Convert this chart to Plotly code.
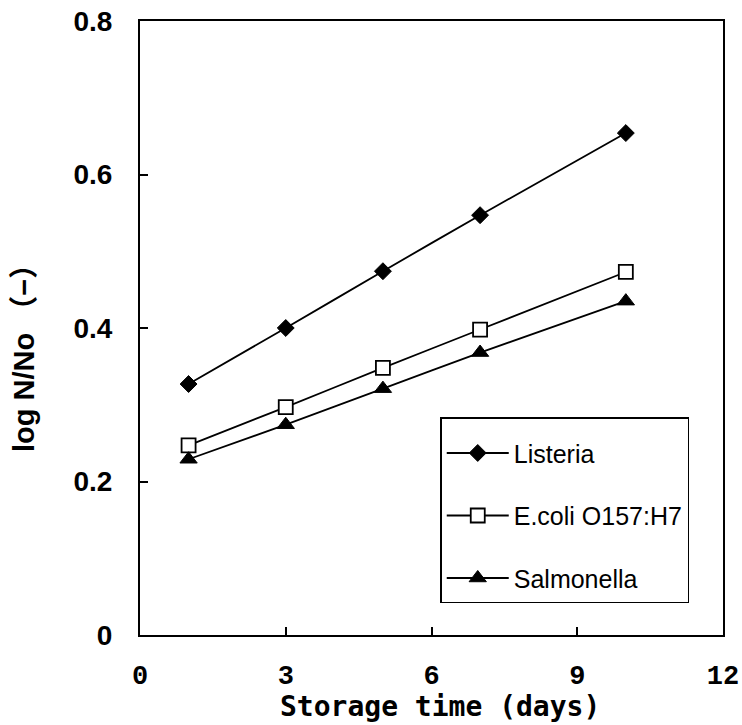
import plotly.graph_objects as go

# Storage time (days) and log N/No growth for each pathogen
days = [1, 3, 5, 7, 10]
listeria = [0.327, 0.400, 0.474, 0.547, 0.654]
ecoli = [0.247, 0.297, 0.348, 0.398, 0.473]
salmonella = [0.229, 0.274, 0.321, 0.368, 0.435]

x_ticks = [0, 3, 6, 9, 12]
y_ticks = [0, 0.2, 0.4, 0.6, 0.8]
y_tick_text = ["0", "0.2", "0.4", "0.6", "0.8"]

series = [
    ("Listeria", listeria, dict(symbol="diamond", size=13, color="black",
                                line=dict(color="black", width=1))),
    ("E.coli O157:H7", ecoli, dict(symbol="square", size=14, color="white",
                                   line=dict(color="black", width=1.8))),
    ("Salmonella", salmonella, dict(symbol="triangle-up", size=15, color="black",
                                    line=dict(color="black", width=1))),
]

fig = go.Figure()
for i, (name, vals, marker) in enumerate(series):
    fig.add_trace(go.Scatter(
        x=days, y=vals, name=name, mode="lines+markers",
        line=dict(color="black", width=1.8, shape="spline", smoothing=0.5),
        marker=marker, legendgroup=f"g{i}",
    ))

fig.update_layout(
    width=742, height=725, autosize=False,
    margin=dict(l=140, r=19, t=21, b=90),
    paper_bgcolor="white", plot_bgcolor="white",
    showlegend=True,
    legend=dict(
        x=0.515, y=0.355, xanchor="left", yanchor="top",
        bgcolor="white", bordercolor="black", borderwidth=1.5,
        font=dict(family="Liberation Sans, Arial, sans-serif", size=25, color="black"),
        traceorder="grouped", tracegroupgap=27, itemwidth=62,
        title=dict(text=" ", font=dict(size=9)),
    ),
)

fig.update_xaxes(
    range=[0, 12], tickvals=x_ticks, ticks="inside", ticklen=8, tickwidth=1.5,
    tickcolor="black", showline=True, linecolor="black", linewidth=2, mirror=True,
    showgrid=False, zeroline=False, automargin=False,
    tickfont=dict(family="Liberation Sans Narrow, Liberation Mono, monospace", size=27,
                  color="black", weight="bold"),
    ticklabelstandoff=15,
)
fig.update_yaxes(
    range=[0, 0.8], tickvals=y_ticks, ticktext=y_tick_text, ticks="inside", ticklen=8,
    tickwidth=1.5, tickcolor="black", showline=True, linecolor="black", linewidth=2,
    mirror=True, showgrid=False, zeroline=False, automargin=False,
    tickfont=dict(family="Liberation Sans, Arial, sans-serif", size=28,
                  color="black", weight="bold"),
    ticklabelstandoff=20,
)

# Axis labels, placed as annotations in paper coordinates
fig.add_annotation(
    text="Storage time (days)", showarrow=False,
    xref="paper", yref="paper", x=0.515, y=-0.1455,
    xanchor="center", yanchor="bottom", borderpad=0,
    font=dict(family="DejaVu Sans Mono, monospace", size=28,
              color="black", weight="bold"),
)
fig.add_annotation(
    text="log N/No （−）", textangle=-90, showarrow=False,
    xref="paper", yref="paper", x=-0.199, y=0.4625,
    xanchor="center", yanchor="middle",
    font=dict(family="Liberation Sans, Noto Sans CJK JP, sans-serif", size=29,
              color="black", weight="bold"),
)

fig.write_html("out.html")
